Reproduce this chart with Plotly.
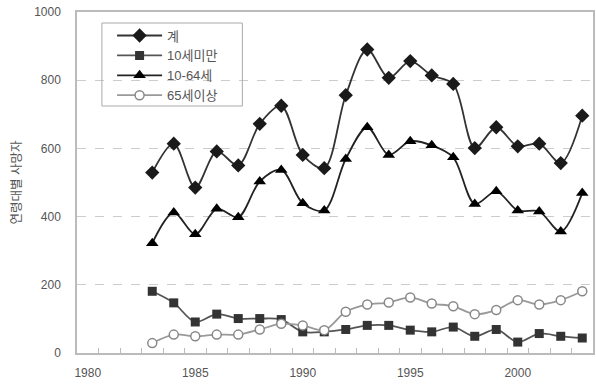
import plotly.graph_objects as go

years = list(range(1983, 2004))
total = [529, 614, 485, 591, 550, 672, 725, 581, 542, 756, 890, 807, 856, 814, 789, 601, 662, 606, 614, 557, 696]
under10 = [181, 147, 91, 114, 101, 101, 98, 62, 62, 69, 81, 81, 67, 62, 76, 49, 69, 32, 57, 49, 44]
age10_64 = [322, 412, 348, 423, 398, 503, 537, 439, 418, 569, 662, 581, 621, 609, 574, 437, 474, 418, 415, 356, 469]
over65 = [29, 54, 49, 54, 54, 69, 86, 81, 67, 121, 142, 148, 163, 145, 137, 114, 126, 155, 142, 155, 181]
names = ["계", "10세미만", "10-64세", "65세이상"]
x_ticks = [1980, 1985, 1990, 1995, 2000]
x_range = [1979.5, 2003.5]

SM = 0.9
fig = go.Figure()
fig.add_trace(go.Scatter(x=years, y=total, name=names[0], mode="lines+markers",
                         line=dict(color="#333333", width=1.8, shape="spline", smoothing=SM),
                         marker=dict(symbol="diamond", size=11, color="#1a1a1a")))
fig.add_trace(go.Scatter(x=years, y=under10, name=names[1], mode="lines+markers",
                         line=dict(color="#555555", width=1.8, shape="spline", smoothing=SM),
                         marker=dict(symbol="square", size=9, color="#333333")))
fig.add_trace(go.Scatter(x=years, y=age10_64, name=names[2], mode="lines+markers",
                         line=dict(color="#222222", width=1.8, shape="spline", smoothing=SM),
                         marker=dict(symbol="triangle-up", size=11, color="#000000")))
fig.add_trace(go.Scatter(x=years, y=over65, name=names[3], mode="lines+markers",
                         line=dict(color="#999999", width=1.8, shape="spline", smoothing=SM),
                         marker=dict(symbol="circle", size=9, color="white",
                                     line=dict(color="#888888", width=1.5))))
# empty trace so the label axis is rendered
fig.add_trace(go.Scatter(x=[], y=[], xaxis="x2", showlegend=False, hoverinfo="skip"))

font_fam = "Liberation Sans, Noto Sans CJK KR, sans-serif"
fig.update_layout(
    width=596, height=391,
    margin=dict(l=77, r=1, t=12, b=38),
    paper_bgcolor="white", plot_bgcolor="white",
    font=dict(family=font_fam, size=12, color="#555555"),
    showlegend=True,
    legend=dict(x=0.068, y=0.975, xanchor="left", yanchor="top",
                borderwidth=0, bgcolor="rgba(0,0,0,0)",
                font=dict(size=13, color="#555555", family=font_fam),
                tracegroupgap=0, itemwidth=45),
    xaxis=dict(range=x_range, tick0=1979.5, dtick=1, ticks="inside", ticklen=5,
               tickcolor="#bbbbbb", showticklabels=False,
               showgrid=False, zeroline=False,
               showline=True, linecolor="#bbbbbb", linewidth=1.5, mirror=True),
    xaxis2=dict(range=x_range, overlaying="x", side="bottom", tickvals=x_ticks, ticks="",
                showgrid=False, zeroline=False, showline=False, ticklabelstandoff=11,
                matches="x"),
    yaxis=dict(range=[0, 1000], tickvals=[0, 200, 400, 600, 800, 1000],
               showgrid=True, gridcolor="#cccccc", griddash="dash", gridwidth=1,
               zeroline=False, showline=True, linecolor="#bbbbbb", linewidth=1.5, mirror=True,
               ticks="", ticklabelstandoff=12,
               title=dict(text="연령대별 사망자", font=dict(size=12.5, color="#555555"), standoff=10)),
    shapes=[dict(type="rect", xref="paper", yref="paper",
                 x0=(102 - 77) / 518, x1=(243 - 77) / 518,
                 y0=(353 - 106) / 341, y1=(353 - 23) / 341,
                 line=dict(color="#aaaaaa", width=1), fillcolor="rgba(0,0,0,0)", layer="above")],
)

fig.write_html("out.html")
